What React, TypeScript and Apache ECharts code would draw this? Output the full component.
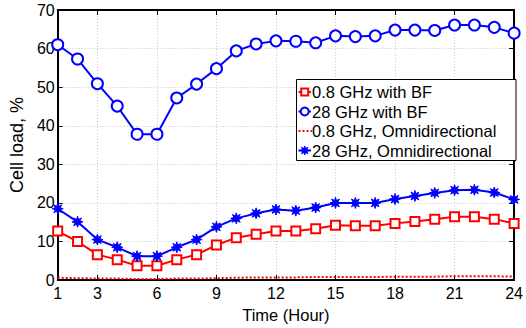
import React, { useEffect, useRef } from "react";
import * as echarts from "echarts";

const hours = [1, 2, 3, 4, 5, 6, 7, 8, 9, 10, 11, 12, 13, 14, 15, 16, 17, 18, 19, 20, 21, 22, 23, 24];
const xTicks = [1, 3, 6, 9, 12, 15, 18, 21, 24];
const lowBF = [12.7, 10.0, 6.6, 5.3, 3.7, 3.7, 5.3, 6.6, 9.1, 11.0, 11.9, 12.7, 12.7, 13.3, 14.2, 14.1, 14.1, 14.7, 15.2, 15.8, 16.4, 16.4, 15.8, 14.7];
const highBF = [61.0, 57.3, 50.9, 45.1, 37.8, 37.8, 47.2, 50.8, 54.8, 59.4, 61.2, 62.0, 61.9, 61.5, 63.3, 63.1, 63.3, 64.8, 64.8, 64.7, 66.1, 66.1, 65.5, 64.0];
const lowOmni = [0.6, 0.5, 0.4, 0.4, 0.3, 0.3, 0.4, 0.4, 0.5, 0.6, 0.7, 0.7, 0.7, 0.8, 0.8, 0.8, 0.8, 0.9, 0.9, 0.9, 1.0, 1.0, 1.0, 0.9];
const highOmni = [18.5, 15.1, 10.5, 8.5, 6.2, 6.2, 8.5, 10.5, 13.8, 16.0, 17.3, 18.3, 18.0, 18.8, 20.0, 20.0, 20.0, 21.0, 21.8, 22.6, 23.3, 23.4, 22.7, 20.9];
const names = ["0.8 GHz with BF", "28 GHz with BF", "0.8 GHz, Omnidirectional", "28 GHz, Omnidirectional"];

const FONT = "'Liberation Sans', Arial, Helvetica, sans-serif";
const RED = "#ff0000";
const BLUE = "#0000ff";

function pairs(v: number[]) {
  return hours.map((h, i) => [h, v[i]]);
}

function starPoints(cx: number, cy: number, ro: number, ri: number) {
  const pts: number[][] = [];
  for (let k = 0; k < 16; k++) {
    const r = k % 2 === 0 ? ro : ri;
    const a = (k * Math.PI) / 8;
    pts.push([cx + r * Math.cos(a), cy + r * Math.sin(a)]);
  }
  return pts;
}

const STAR =
  "path://" +
  starPoints(10, 10, 10, 4.6)
    .map((p, i) => (i === 0 ? "M" : "L") + p[0].toFixed(2) + " " + p[1].toFixed(2))
    .join(" ") +
  " Z";

function buildLegend() {
  const boxX = 296.5, boxY = 79.5, boxW = 219.5, boxH = 81;
  const rowY = [92, 111.5, 131, 150.5];
  const x0 = 298.5, x1 = 311, cx = 304.7, tx = 312;
  const els: any[] = [
    { type: "rect", shape: { x: boxX, y: boxY, width: boxW, height: boxH }, style: { fill: "#fff", stroke: "#000", lineWidth: 1 }, z: 100 },
  ];
  els.push({ type: "line", shape: { x1: x0, y1: rowY[0], x2: x1, y2: rowY[0] }, style: { stroke: RED, lineWidth: 2 }, z: 101 });
  els.push({ type: "rect", shape: { x: cx - 3.5, y: rowY[0] - 3.5, width: 7, height: 7 }, style: { fill: "#fff", stroke: RED, lineWidth: 2 }, z: 102 });
  els.push({ type: "line", shape: { x1: x0, y1: rowY[1], x2: x1, y2: rowY[1] }, style: { stroke: BLUE, lineWidth: 2 }, z: 101 });
  els.push({ type: "circle", shape: { cx, cy: rowY[1], r: 4 }, style: { fill: "#fff", stroke: BLUE, lineWidth: 2 }, z: 102 });
  els.push({ type: "line", shape: { x1: x0, y1: rowY[2], x2: x1 + 1, y2: rowY[2] }, style: { stroke: RED, lineWidth: 2, lineDash: [2, 2] }, z: 101 });
  els.push({ type: "line", shape: { x1: x0, y1: rowY[3], x2: x1, y2: rowY[3] }, style: { stroke: BLUE, lineWidth: 2 }, z: 101 });
  els.push({ type: "polygon", shape: { points: starPoints(cx, rowY[3], 4.5, 2.1) }, style: { fill: BLUE, stroke: BLUE, lineWidth: 1 }, z: 102 });
  names.forEach((n, i) => {
    els.push({
      type: "text",
      x: tx,
      y: rowY[i],
      style: { text: n, font: `16.5px ${FONT}`, fill: "#000", verticalAlign: "middle", align: "left" },
      z: 103,
    });
  });
  return els;
}

export default function App() {
  const ref = useRef<HTMLDivElement>(null);
  useEffect(() => {
    if (!ref.current) return;
    const chart = echarts.init(ref.current, null, { renderer: "svg" });
    const boxAxisX = {
      type: "value",
      min: 1,
      max: 24,
      axisLine: { show: true, onZero: false, lineStyle: { color: "#000", width: 2 } },
      axisTick: { show: true, inside: true, length: 5, customValues: xTicks, lineStyle: { color: "#000", width: 1 } },
    };
    const boxAxisY = {
      type: "value",
      min: 0,
      max: 70,
      interval: 10,
      axisLine: { show: true, onZero: false, lineStyle: { color: "#000", width: 2 } },
      axisTick: { show: true, inside: true, length: 5, lineStyle: { color: "#000", width: 1 } },
    };
    chart.setOption({
      animation: false,
      backgroundColor: "#fff",
      textStyle: { fontFamily: FONT },
      grid: { left: 46, right: 9, top: 10, bottom: 38.5, containLabel: false },
      xAxis: [
        {
          ...boxAxisX,
          position: "bottom",
          name: "Time (Hour)",
          nameLocation: "middle",
          nameGap: 25,
          nameTextStyle: { fontSize: 16.5, color: "#000", fontFamily: FONT },
          axisLabel: { show: true, customValues: xTicks, margin: 5, fontSize: 16, color: "#000", fontFamily: FONT },
          splitLine: { show: true, lineStyle: { color: "#c8c8c8", type: [1, 2], width: 1 } },
        },
        {
          ...boxAxisX,
          position: "top",
          axisLabel: { show: false },
          splitLine: { show: false },
        },
      ],
      yAxis: [
        {
          ...boxAxisY,
          position: "left",
          name: "Cell load, %",
          nameLocation: "middle",
          nameGap: 29,
          nameTextStyle: { fontSize: 18, color: "#000", fontFamily: FONT },
          axisLabel: { show: true, margin: 3, fontSize: 16, color: "#000", fontFamily: FONT },
          splitLine: { show: true, lineStyle: { color: "#c8c8c8", type: [1, 2], width: 1 } },
        },
        {
          ...boxAxisY,
          position: "right",
          axisLabel: { show: false },
          splitLine: { show: false },
        },
      ],
      graphic: buildLegend(),
      series: [
        {
          name: names[0],
          type: "line",
          data: pairs(lowBF),
          symbol: "rect",
          symbolSize: 9,
          lineStyle: { color: RED, width: 2 },
          itemStyle: { color: "#fff", borderColor: RED, borderWidth: 2 },
          z: 3,
        },
        {
          name: names[1],
          type: "line",
          data: pairs(highBF),
          symbol: "circle",
          symbolSize: 11,
          lineStyle: { color: BLUE, width: 2 },
          itemStyle: { color: "#fff", borderColor: BLUE, borderWidth: 2 },
          z: 3,
        },
        {
          name: names[2],
          type: "line",
          data: pairs(lowOmni),
          symbol: "none",
          lineStyle: { color: RED, width: 2, type: [2, 2] },
          itemStyle: { color: RED },
          z: 3,
        },
        {
          name: names[3],
          type: "line",
          data: pairs(highOmni),
          symbol: STAR,
          symbolSize: 11,
          lineStyle: { color: BLUE, width: 2 },
          itemStyle: { color: BLUE, borderColor: BLUE, borderWidth: 1 },
          z: 3,
        },
      ],
    });
    return () => chart.dispose();
  }, []);
  return <div ref={ref} style={{ width: 526, height: 328, position: "absolute", left: 0, top: 0 }} />;
}
